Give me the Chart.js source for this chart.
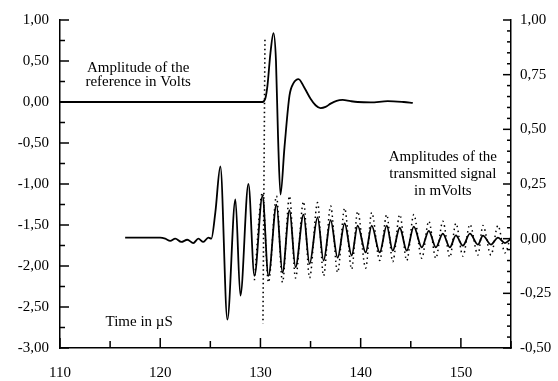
<!DOCTYPE html>
<html>
<head>
<meta charset="utf-8">
<script src="https://cdn.jsdelivr.net/npm/chart.js@4/dist/chart.umd.min.js"></script>
<style>
  body { margin: 0; background: #fff; }
</style>
</head>
<body>
<canvas id="myChart" width="558" height="381"></canvas>
<script>
// reference pulse, left axis (Volts)
const refTime = [110, 130.2, 130.5, 130.7, 131.0, 131.3, 131.55, 131.75, 132.0, 132.4, 132.9, 133.3, 133.8, 134.4, 135.0, 135.5, 136.0, 136.5, 137.0, 137.6, 138.2, 139.0, 139.7, 141.0, 142.7, 144.3, 145.2];
const refAmp = [0, 0, 0.05, 0.2, 0.6, 0.84, 0.5, -0.4, -1.13, -0.55, 0.08, 0.23, 0.28, 0.17, 0.04, -0.04, -0.075, -0.06, -0.02, 0.015, 0.025, 0.01, 0, -0.005, 0.01, 0, -0.01];

// vertical dotted marker, left axis
const markTime = [130.45, 130.25];
const markAmp = [0.76, -2.7];

// transmitted signal, solid trace, right axis (mVolts)
const txTime = [116.5, 120.0, 120.5, 121.0, 121.5, 122.1, 122.7, 123.3, 123.8, 124.3, 124.8, 125.1, 125.5, 126.0, 126.7, 127.5, 128.0, 128.8, 129.4, 130.2, 130.8, 131.6, 132.2, 132.9, 133.5, 134.3, 134.9, 135.7, 136.3, 137.0, 137.7, 138.4, 139.1, 139.7, 140.5, 141.1, 141.9, 142.6, 143.2, 143.9, 144.6, 145.3, 146.1, 146.8, 147.5, 148.2, 148.9, 149.5, 150.2, 150.9, 151.7, 152.2, 153.0, 153.7, 154.4, 155.0];
const txAmp = [0.005, 0.005, 0, -0.01, 0, -0.015, -0.005, -0.02, 0, -0.015, 0.005, 0, 0.12, 0.33, -0.37, 0.18, -0.26, 0.25, -0.17, 0.195, -0.17, 0.155, -0.155, 0.13, -0.13, 0.11, -0.115, 0.097, -0.1, 0.085, -0.087, 0.07, -0.077, 0.06, -0.063, 0.06, -0.063, 0.06, -0.055, 0.05, -0.055, 0.055, -0.04, 0.036, -0.04, 0.023, -0.04, 0.015, -0.032, 0.023, -0.027, 0.014, -0.027, 0.005, -0.02, 0];

// transmitted signal, dotted trace, right axis (mVolts)
const dotTime = [129.4, 130.2, 130.8, 131.6, 132.2, 132.9, 133.5, 134.3, 134.9, 135.7, 136.3, 137.0, 137.7, 138.4, 139.1, 139.7, 140.5, 141.1, 141.9, 142.6, 143.2, 143.9, 144.6, 145.3, 146.1, 146.8, 147.5, 148.2, 148.9, 149.5, 150.2, 150.9, 151.7, 152.2, 153.0, 153.7, 154.4, 155.0];
const dotAmp = [-0.19, 0.21, -0.2, 0.195, -0.2, 0.195, -0.18, 0.17, -0.18, 0.165, -0.17, 0.15, -0.155, 0.14, -0.14, 0.125, -0.135, 0.12, -0.1, 0.11, -0.105, 0.11, -0.1, 0.11, -0.09, 0.08, -0.09, 0.08, -0.085, 0.07, -0.08, 0.065, -0.075, 0.06, -0.075, 0.06, -0.065, 0.02];

// labelled tick values
const xLabels = [110, 120, 130, 140, 150];
const yLabels = [1, 0.5, 0, -0.5, -1, -1.5, -2, -2.5, -3];
const y1Labels = [1, 0.75, 0.5, 0.25, 0, -0.25, -0.5];

const pts = (xs, ys) => xs.map((x, i) => ({ x: x, y: ys[i] }));
const fmt = v => v.toFixed(2).replace(".", ",");
const isLabel = (list, v) => list.some(l => Math.abs(l - v) < 1e-6);
const font = { family: "'Liberation Serif', serif", size: 15 };

// free text placed in data coordinates
const notes = [
  { lines: ["Amplitude of the", "reference in Volts"], x: 117.8, y: 0.41, axis: "y", gap: 14 },
  { lines: ["Amplitudes of the", "transmitted signal", "in mVolts"], x: 148.2, y: 0.375, axis: "y1", gap: 17 },
  { lines: ["Time in \u00b5S"], x: 117.9, y: -2.686, axis: "y", gap: 0 },
];

const innerTicks = {
  id: "innerTicks",
  afterDraw(chart) {
    const ctx = chart.ctx;
    const area = chart.chartArea;
    ctx.save();
    ctx.strokeStyle = "#000";
    ctx.lineWidth = 1.5;
    const sx = chart.scales.x;
    sx.ticks.forEach(t => {
      const p = sx.getPixelForValue(t.value);
      const len = isLabel(xLabels, t.value) ? 10 : 7;
      ctx.beginPath(); ctx.moveTo(p, area.bottom); ctx.lineTo(p, area.bottom - len); ctx.stroke();
    });
    const sy = chart.scales.y;
    sy.ticks.forEach(t => {
      const p = sy.getPixelForValue(t.value);
      const len = isLabel(yLabels, t.value) ? 9 : 5;
      ctx.beginPath(); ctx.moveTo(area.left, p); ctx.lineTo(area.left + len, p); ctx.stroke();
    });
    const sy1 = chart.scales.y1;
    sy1.ticks.forEach(t => {
      const p = sy1.getPixelForValue(t.value);
      const len = isLabel(y1Labels, t.value) ? 8 : 4;
      ctx.beginPath(); ctx.moveTo(area.right, p); ctx.lineTo(area.right - len, p); ctx.stroke();
    });
    ctx.fillStyle = "#000";
    ctx.font = font.size + "px " + font.family;
    ctx.textAlign = "center";
    ctx.textBaseline = "middle";
    notes.forEach(n => {
      const px = sx.getPixelForValue(n.x);
      const py = chart.scales[n.axis].getPixelForValue(n.y);
      n.lines.forEach((line, i) => ctx.fillText(line, px, py + i * n.gap));
    });
    ctx.restore();
  },
};

const ctx = document.getElementById("myChart").getContext("2d");
new Chart(ctx, {
  type: "line",
  data: {
    datasets: [
      {
        data: pts(refTime, refAmp),
        yAxisID: "y",
        borderColor: "#000",
        borderWidth: 1.8,
        cubicInterpolationMode: "monotone",
      },
      {
        data: pts(markTime, markAmp),
        yAxisID: "y",
        borderColor: "#000",
        borderWidth: 1.6,
        borderDash: [1.5, 3],
      },
      {
        data: pts(dotTime, dotAmp),
        yAxisID: "y1",
        borderColor: "#000",
        borderWidth: 1.5,
        borderDash: [1.5, 3.5],
        cubicInterpolationMode: "monotone",
      },
      {
        data: pts(txTime, txAmp),
        yAxisID: "y1",
        borderColor: "#000",
        borderWidth: 1.8,
        cubicInterpolationMode: "monotone",
      },
    ],
  },
  options: {
    responsive: false,
    animation: false,
    layout: { padding: { top: 17, left: 0, right: 0, bottom: 0 } },
    elements: { point: { radius: 0 } },
    plugins: { legend: { display: false }, tooltip: { enabled: false } },
    scales: {
      x: {
        type: "linear",
        min: 110,
        max: 155,
        grid: { display: false, drawTicks: false },
        border: { color: "#000", width: 1.5 },
        ticks: {
          stepSize: 5,
          autoSkip: false,
          maxRotation: 0,
          padding: 16,
          color: "#000",
          font: font,
          callback: v => (isLabel(xLabels, v) ? String(v) : ""),
        },
        afterFit: s => { s.height = 33; },
      },
      y: {
        position: "left",
        min: -3,
        max: 1,
        grid: { display: false, drawTicks: false },
        border: { color: "#000", width: 1.5 },
        ticks: {
          stepSize: 0.25,
          autoSkip: false,
          padding: 11,
          color: "#000",
          font: font,
          callback: v => (isLabel(yLabels, v) ? fmt(v) : ""),
        },
        afterFit: s => { s.width = 60; },
      },
      y1: {
        position: "right",
        min: -0.5,
        max: 1,
        grid: { display: false, drawTicks: false },
        border: { color: "#000", width: 1.5 },
        ticks: {
          stepSize: 0.05,
          maxTicksLimit: 100,
          autoSkip: false,
          padding: 9,
          color: "#000",
          font: font,
          callback: v => (isLabel(y1Labels, v) ? fmt(v) : ""),
        },
        afterFit: s => { s.width = 47; },
      },
    },
  },
  plugins: [innerTicks],
});
</script>
</body>
</html>
